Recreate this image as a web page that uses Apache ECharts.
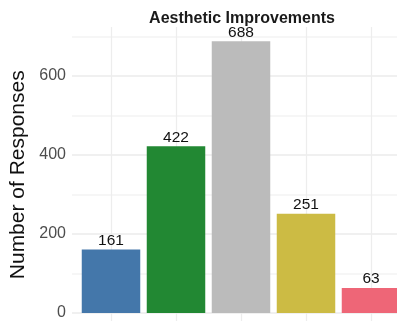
<!DOCTYPE html>
<html>
<head>
<meta charset="utf-8">
<style>
  html, body { margin: 0; padding: 0; background: #ffffff; }
  #chart { width: 397px; height: 321px; }
</style>
<script src="https://cdn.jsdelivr.net/npm/echarts@6/dist/echarts.min.js"></script>
</head>
<body>
<div id="chart"></div>
<script>
// Survey responses per aesthetic improvement option
const categories = ['Option 1', 'Option 2', 'Option 3', 'Option 4', 'Option 5'];
const responses = [161, 422, 688, 251, 63];
const barColors = ['#4477AA', '#228833', '#BBBBBB', '#CCBB44', '#EE6677'];
const yTicks = [0, 100, 200, 300, 400, 500, 600, 700];
const labeledTicks = [0, 200, 400, 600];

const FONT = '"Liberation Sans", Arial, Helvetica, sans-serif';
const chart = echarts.init(document.getElementById('chart'), null, { renderer: 'canvas' });

// the panel runs slightly past the right edge of the canvas, so grids are not kept inside it
const gridBase = { outerBoundsMode: 'none', containLabel: false };

const option = {
  backgroundColor: '#ffffff',
  animation: false,
  title: {
    text: 'Aesthetic Improvements',
    left: 237,
    textAlign: 'center',
    top: 6,
    textStyle: { fontFamily: FONT, fontSize: 16, fontWeight: 'bold', color: '#1a1a1a' }
  },
  grid: [
    // panel background with horizontal grid and value labels
    Object.assign({ left: 72, width: 338, top: 36.5, bottom: 8 }, gridBase),
    // vertical grid lines through the bar centres, spanning the full panel
    Object.assign({ left: 78.5, width: 325, top: 27, bottom: -6 }, gridBase),
    // bars
    Object.assign({ left: 78.5, width: 325, top: 36.5, bottom: 8 }, gridBase)
  ],
  xAxis: [
    { gridIndex: 0, type: 'value', min: 0, max: 1, show: false },
    {
      gridIndex: 1, type: 'category', data: categories, boundaryGap: true,
      axisLine: { show: false }, axisTick: { show: false }, axisLabel: { show: false },
      splitLine: { show: true, alignWithLabel: true, lineStyle: { color: '#ededed', width: 1.3 } }
    },
    {
      gridIndex: 2, type: 'category', data: categories, boundaryGap: true,
      axisLine: { show: false }, axisTick: { show: false }, axisLabel: { show: false },
      splitLine: { show: false }
    }
  ],
  yAxis: [
    {
      gridIndex: 0, type: 'value', min: yTicks[0], max: yTicks[yTicks.length - 1], interval: 100,
      axisLine: { show: false }, axisTick: { show: false },
      axisLabel: {
        fontFamily: FONT, fontSize: 16, color: '#4d4d4d', margin: 6,
        formatter: v => (labeledTicks.indexOf(v) >= 0 ? String(v) : '')
      },
      splitLine: { show: true, lineStyle: { color: ['#ebebeb', '#f3f3f3'], width: 1.6 } },
      name: 'Number of Responses',
      nameLocation: 'middle',
      nameGap: 32,
      nameTextStyle: { fontFamily: FONT, fontSize: 21, color: '#111111' }
    },
    { gridIndex: 1, type: 'value', min: 0, max: 1, show: false },
    { gridIndex: 2, type: 'value', min: yTicks[0], max: yTicks[yTicks.length - 1], show: false }
  ],
  series: [
    {
      type: 'bar',
      xAxisIndex: 2,
      yAxisIndex: 2,
      barWidth: '90%',
      data: responses.map((v, i) => ({ value: v, itemStyle: { color: barColors[i] } })),
      label: {
        show: true,
        position: 'top',
        distance: 1,
        fontFamily: FONT,
        fontSize: 15.5,
        color: '#111111'
      }
    }
  ]
};

chart.setOption(option);
</script>
</body>
</html>
